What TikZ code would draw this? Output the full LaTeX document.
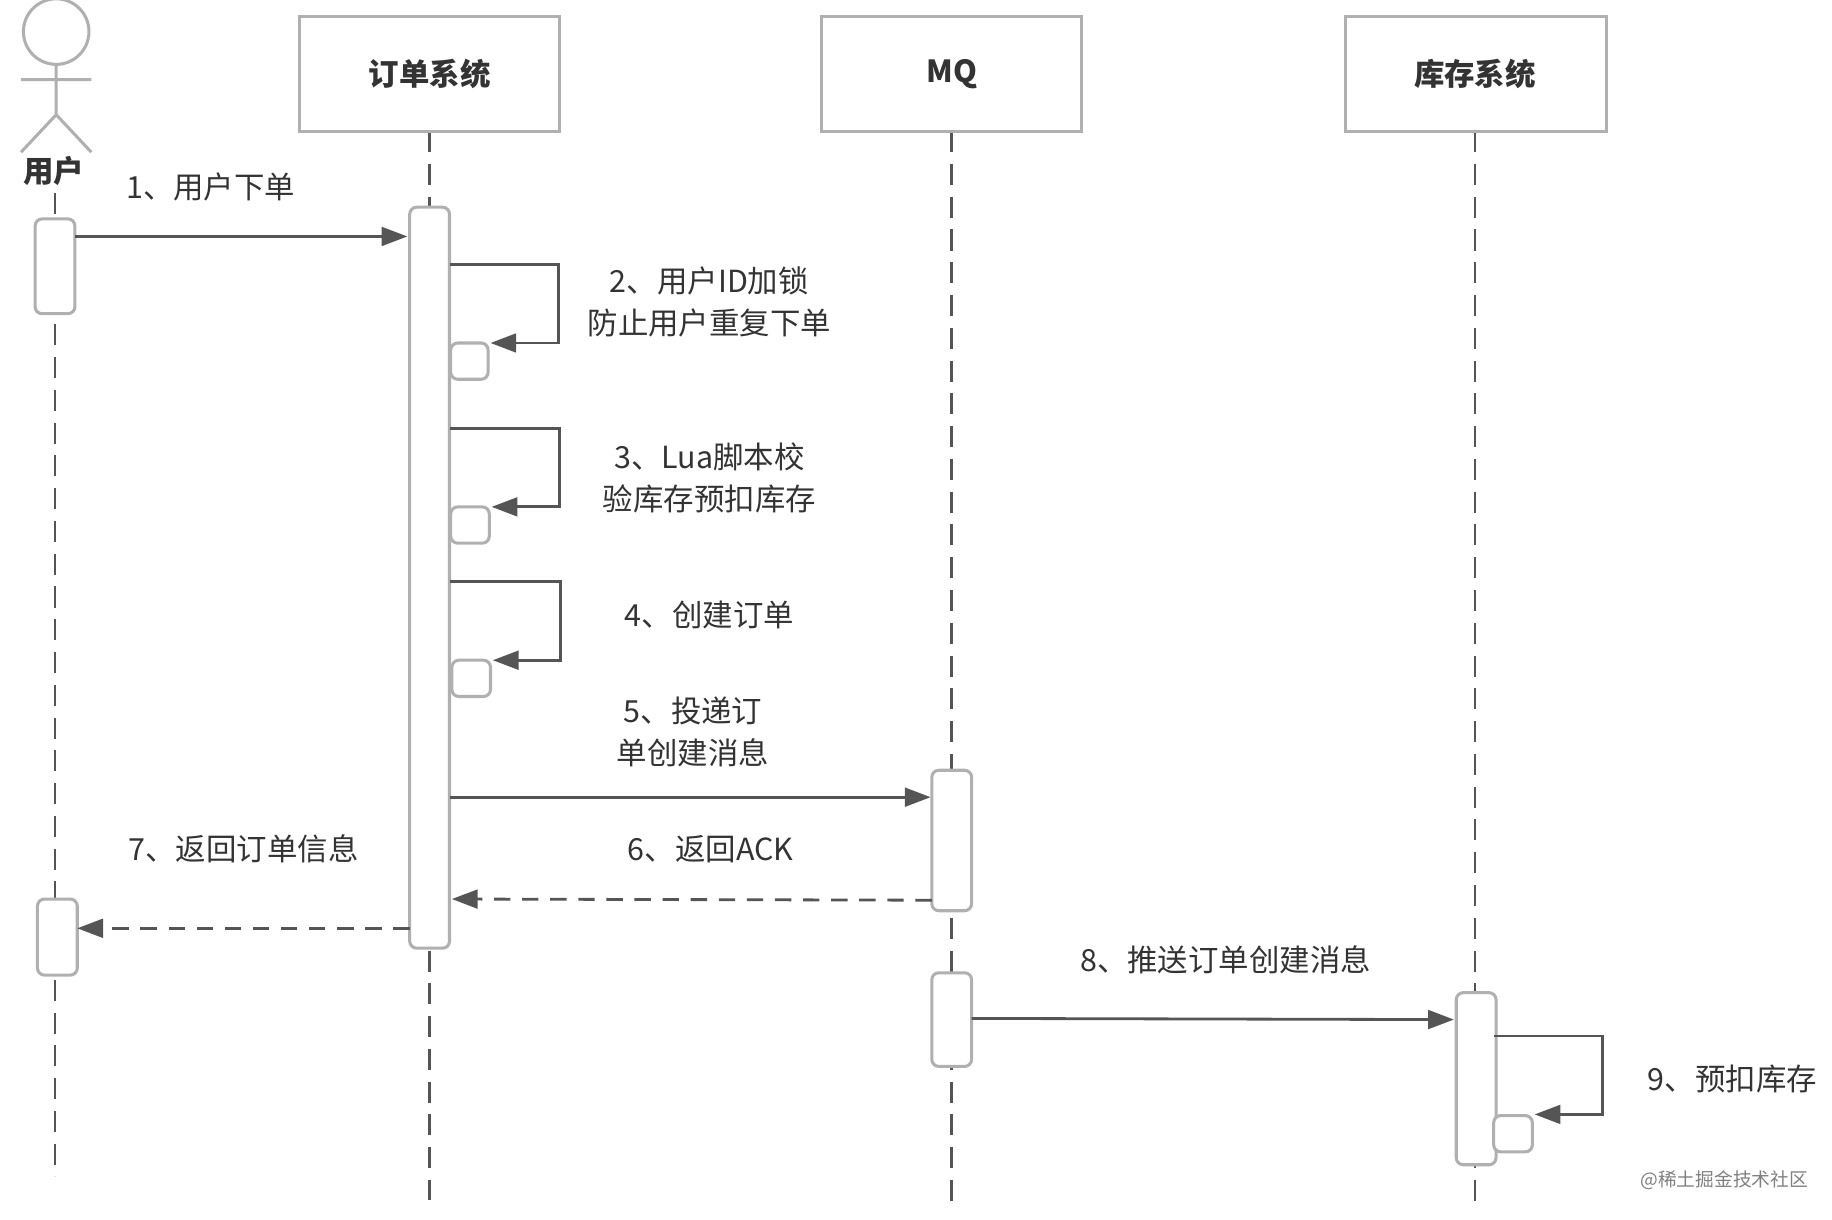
\documentclass[tikz,border=0pt]{standalone}
\usepackage{fontspec}
\setmainfont{Noto Sans CJK SC}
\usetikzlibrary{arrows.meta}
\definecolor{ln}{HTML}{555555}
\definecolor{bx}{HTML}{B0B0B0}
\definecolor{tx}{HTML}{333333}
\begin{document}
\begin{tikzpicture}[x=0.5pt,y=-0.5pt,
  box/.style={draw=bx,line width=1.3pt,fill=white},
  act/.style={draw=bx,line width=1.3pt,fill=white,rounded corners=3pt},
  life/.style={draw=ln,line width=1.2pt,dash pattern=on 9pt off 5pt},
  msg/.style={draw=ln,line width=1.2pt,-{Triangle[length=11pt,width=8pt]}},
  ret/.style={msg,dash pattern=on 7pt off 5pt},
  lbl/.style={text=tx,font=\fontsize{13pt}{18pt}\selectfont,align=center},
  hd/.style={text=tx,font=\fontsize{13pt}{16pt}\selectfont\bfseries}]
\useasboundingbox (0,0) rectangle (1565,1042);
% actor
\draw[bx,line width=1.3pt] (48,27) circle[radius=28];
\draw[bx,line width=1.3pt] (48,55)--(48,98) (18,68)--(78,68) (18,130)--(48,98)--(78,130);
\node[hd] (u) at (46,146) {用户};
% lifelines
\coordinate (l0a) at (47,165); \coordinate (l0b) at (47,1005);
\coordinate (l1a) at (367,112); \coordinate (l1b) at (367,1025);
\coordinate (l2a) at (813,112); \coordinate (l2b) at (813,1030);
\coordinate (l3a) at (1260,112); \coordinate (l3b) at (1260,1030);
\foreach \i in {0,1,2,3} \draw[life] (l\i a)--(l\i b);
% headers
\draw[box] (256,14) rectangle (478,112); \node[hd] (h1) at (367,63) {订单系统};
\draw[box] (702,14) rectangle (924,112); \node[hd] (h2) at (813,63) {MQ};
\draw[box] (1149,14) rectangle (1372,112); \node[hd] (h3) at (1260,63) {库存系统};
% activations
\draw[act] (30,187) rectangle (64,268);
\draw[act] (32,768) rectangle (66,833);
\draw[act] (350,177) rectangle (384,810);
\draw[act] (385,293) rectangle (417,324);
\draw[act] (385,433) rectangle (418,464);
\draw[act] (386,564) rectangle (419,595);
\draw[act] (796,658) rectangle (830,778);
\draw[act] (796,831) rectangle (830,911);
\draw[act] (1244,848) rectangle (1278,995);
\draw[act] (1276,953) rectangle (1309,984);
% messages
\coordinate (a1) at (64,202); \coordinate (b1) at (348,202);
\draw[msg] (a1)--(b1);
\node[lbl] (t1) at (180,160) {1、用户下单};
\coordinate (s2) at (384,226); \coordinate (e2) at (419,293);
\draw[msg] (s2)-|(477,293)--(e2);
\node[lbl] (t2) at (606,258) {2、用户ID加锁\\防止用户重复下单};
\coordinate (s3) at (384,366); \coordinate (e3) at (420,433);
\draw[msg] (s3)-|(478,433)--(e3);
\node[lbl] (t3) at (606,408) {3、Lua脚本校\\验库存预扣库存};
\coordinate (s4) at (384,497); \coordinate (e4) at (421,564);
\draw[msg] (s4)-|(479,564)--(e4);
\node[lbl] (t4) at (606,525) {4、创建订单};
\coordinate (s5) at (384,681); \coordinate (e5) at (795,681);
\draw[msg] (s5)--(e5);
\node[lbl] (t5) at (592,625) {5、投递订\\单创建消息};
\coordinate (s6) at (796,769); \coordinate (e6) at (386,768);
\draw[ret] (s6)--(e6);
\node[lbl] (t6) at (607,725) {6、返回ACK};
\coordinate (s7) at (350,793); \coordinate (e7) at (66,793);
\draw[ret] (s7)--(e7);
\node[lbl] (t7) at (208,725) {7、返回订单信息};
\coordinate (s8) at (830,870); \coordinate (e8) at (1242,871);
\draw[msg] (s8)--(e8);
\node[lbl] (t8) at (1047,820) {8、推送订单创建消息};
\coordinate (s9) at (1276,885); \coordinate (e9) at (1311,952);
\draw[msg] (s9)-|(1369,952)--(e9);
\node[lbl] (t9) at (1480,922) {9、预扣库存};
\node[text=gray,font=\fontsize{8pt}{10pt}\selectfont] (wm) at (1473,1008) {@稀土掘金技术社区};
\end{tikzpicture}
\end{document}
